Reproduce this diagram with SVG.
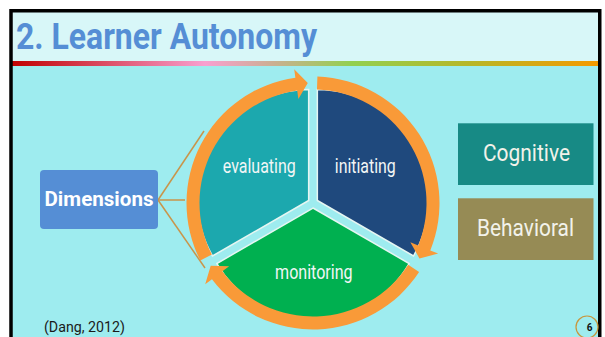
<svg xmlns="http://www.w3.org/2000/svg" width="605" height="337" viewBox="0 0 605 337">
<defs>
<linearGradient id="bar" x1="0" y1="0" x2="1" y2="0">
<stop offset="0" stop-color="#c00000"/>
<stop offset="0.33" stop-color="#f99fd0"/>
<stop offset="0.45" stop-color="#c9b090"/>
<stop offset="0.58" stop-color="#92d050"/>
<stop offset="0.78" stop-color="#b7b628"/>
<stop offset="1" stop-color="#f59a00"/>
</linearGradient>
<style>
.t{font-family:Roboto,"Liberation Sans",sans-serif}
.seg{stroke:#e6f6f2;stroke-width:1.5}
.arr{fill:#f99a38}
.con{stroke:#c9954a;stroke-width:1.5;fill:none}
.in{font-size:19.5px;fill:#f2f6f6;text-anchor:middle}
.box{font-size:23px;fill:#f2f2ea;text-anchor:middle}
</style>
</defs>
<rect x="0" y="0" width="605" height="337" fill="#ffffff"/>
<rect x="11" y="11" width="588" height="340" fill="#9eecef"/>
<rect x="11" y="11" width="588" height="50" fill="#d8f7f8"/>
<rect x="11" y="61" width="588" height="5" fill="url(#bar)"/>
<rect x="11" y="10.75" width="588.75" height="340" fill="none" stroke="#000" stroke-width="3.5"/>
<g id="title"><text class="t" x="16" y="48.5" font-size="36" font-weight="bold" fill="#558ed5" textLength="301" lengthAdjust="spacingAndGlyphs">2. Learner Autonomy</text></g>
<g id="connectors">
<line class="con" x1="158" y1="200" x2="204" y2="131"/>
<line class="con" x1="158" y1="200" x2="185" y2="200"/>
<line class="con" x1="158" y1="200" x2="205" y2="268"/>
</g>
<g id="dimensions">
<rect x="40" y="170" width="118" height="59" rx="4" fill="#558ed5"/>
<text class="t" x="99" y="206" font-size="21" font-weight="bold" fill="#ffffff" text-anchor="middle" textLength="109" lengthAdjust="spacingAndGlyphs">Dimensions</text>
</g>
<g id="evaluating">
<path class="seg" fill="#1ca8ae" d="M308.67 200.5 L212.54 256 A111 111 0 0 1 308.67 89.5 Z"/>
<text class="t in" x="259.3" y="173" textLength="73" lengthAdjust="spacingAndGlyphs">evaluating</text>
</g>
<g id="initiating">
<path class="seg" fill="#1f497d" d="M317.33 200.5 L317.33 89.5 A111 111 0 0 1 413.46 256 Z"/>
<text class="t in" x="365.3" y="173" textLength="61" lengthAdjust="spacingAndGlyphs">initiating</text>
</g>
<g id="monitoring">
<path class="seg" fill="#00b050" d="M313 208 L409.13 263.5 A111 111 0 0 1 216.87 263.5 Z"/>
<text class="t in" x="313.8" y="279" textLength="77.5" lengthAdjust="spacingAndGlyphs">monitoring</text>
</g>
<g id="cycle-arrows">
<path class="arr" d="M200.29 260.43 A126.5 126.5 0 0 1 295.39 77.73 L294.21 69.31 L307.77 83.12 L298.38 99.02 L297.2 90.6 A113.5 113.5 0 0 0 211.87 254.53 Z"/>
<path class="arr" d="M317.41 76.58 A126.5 126.5 0 0 1 430.29 250.39 L438.17 253.57 L419.44 258.4 L410.36 242.33 L418.24 245.52 A113.5 113.5 0 0 0 316.96 89.57 Z"/>
<path class="arr" d="M419.09 271.89 A126.5 126.5 0 0 1 211.98 279.13 L205.19 284.24 L210.69 265.7 L229.15 266.19 L222.36 271.3 A113.5 113.5 0 0 0 408.19 264.81 Z"/>
</g>
<g id="cognitive">
<rect x="458" y="123.3" width="135.5" height="61.7" fill="#178a85"/>
<text class="t box" x="526.5" y="160.7" textLength="87" lengthAdjust="spacingAndGlyphs">Cognitive</text>
</g>
<g id="behavioral">
<rect x="458" y="198.3" width="135.5" height="61.7" fill="#968b55"/>
<text class="t box" x="525.5" y="235.5" textLength="97" lengthAdjust="spacingAndGlyphs">Behavioral</text>
</g>
<g id="citation"><text class="t" x="44" y="332" font-size="15" fill="#1a1a1a" textLength="81" lengthAdjust="spacingAndGlyphs">(Dang, 2012)</text></g>
<g id="page-number">
<circle cx="587" cy="327" r="11" fill="none" stroke="#c8963c" stroke-width="1.2"/>
<text class="t" x="589.5" y="330.5" font-size="10" font-weight="bold" fill="#111" text-anchor="middle">6</text>
</g>
</svg>
